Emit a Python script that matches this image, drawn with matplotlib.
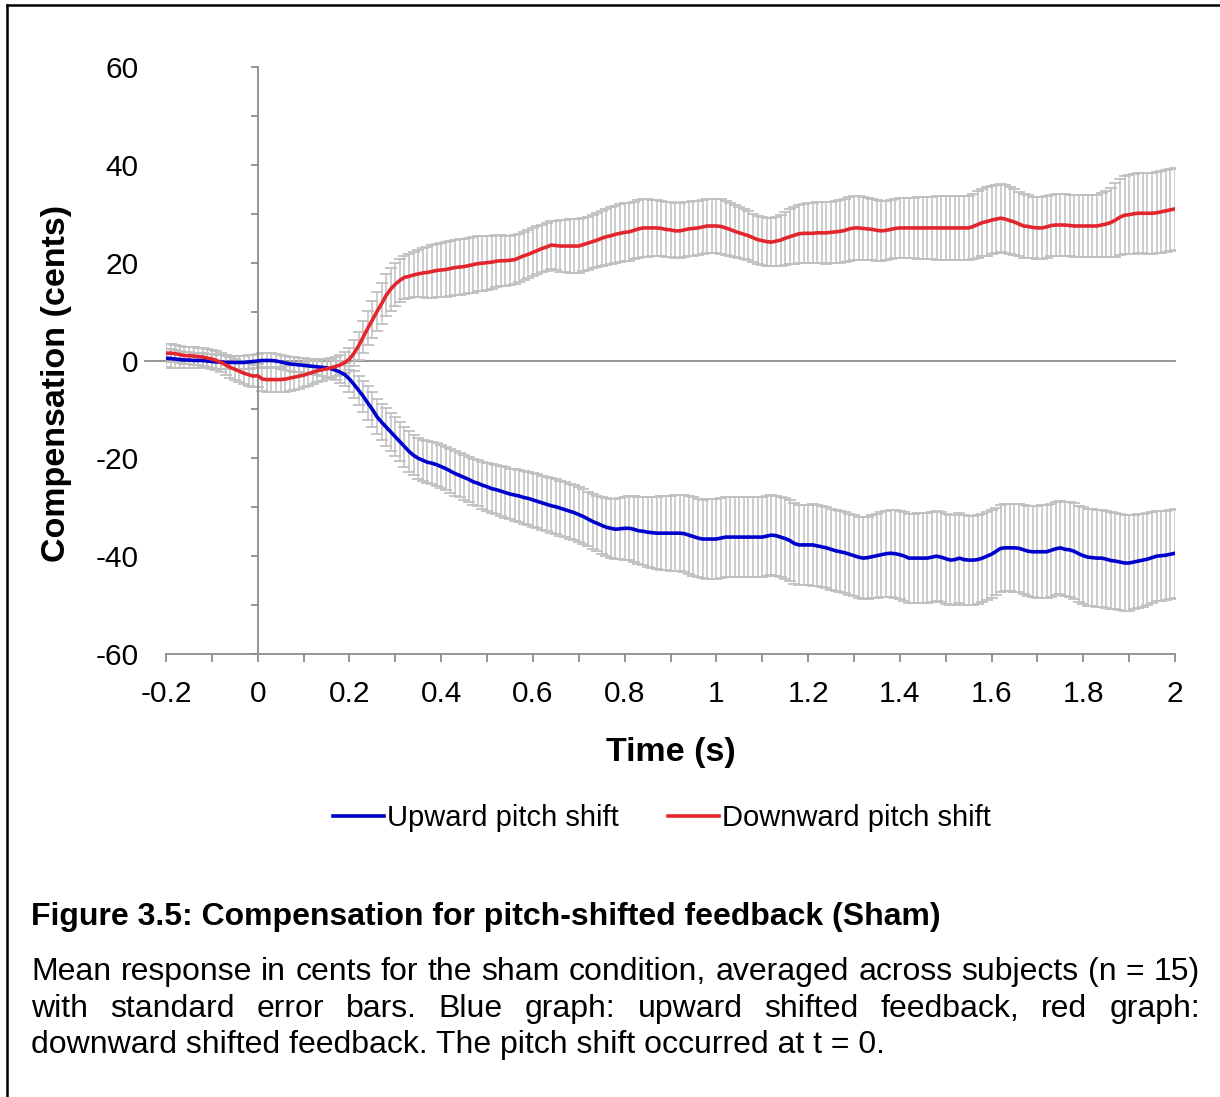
import numpy as np
import matplotlib
matplotlib.use("Agg")
import matplotlib.pyplot as plt
from matplotlib.lines import Line2D
from matplotlib.ticker import MultipleLocator, FuncFormatter

plt.rcParams["font.family"] = ["Liberation Sans", "DejaVu Sans"]

# sampling times (s), one sample every 10 ms from -0.2 to 2.0
time_s = np.round(np.arange(-20, 201) / 100, 2)

# mean compensation (cents)
up_mean = [
    0.5, 0.4, 0.3, 0.2, 0.1, 0.1, 0.0, 0.0, 0.0, -0.1,
    -0.2, -0.3, -0.3, -0.4, -0.4, -0.4, -0.4, -0.4, -0.3, -0.2,
    -0.1, 0.0, 0.0, 0.0, -0.1, -0.3, -0.5, -0.7, -0.8, -0.9,
    -1.0, -1.1, -1.2, -1.3, -1.4, -1.5, -1.7, -2.0, -2.4, -2.9,
    -3.8, -4.9, -6.1, -7.3, -8.7, -10.0, -11.5, -12.6, -13.6, -14.6,
    -15.6, -16.6, -17.6, -18.6, -19.4, -20.0, -20.4, -20.8, -21.0, -21.3,
    -21.7, -22.1, -22.6, -23.1, -23.5, -23.9, -24.3, -24.8, -25.1, -25.5,
    -25.8, -26.2, -26.4, -26.7, -27.0, -27.3, -27.5, -27.7, -28.0, -28.2,
    -28.5, -28.8, -29.1, -29.4, -29.7, -29.9, -30.2, -30.5, -30.8, -31.1,
    -31.5, -31.9, -32.4, -32.9, -33.3, -33.7, -34.1, -34.3, -34.5, -34.4,
    -34.3, -34.3, -34.5, -34.8, -34.9, -35.1, -35.2, -35.3, -35.3, -35.3,
    -35.3, -35.3, -35.3, -35.4, -35.7, -36.0, -36.3, -36.5, -36.5, -36.5,
    -36.5, -36.3, -36.1, -36.1, -36.1, -36.1, -36.1, -36.1, -36.1, -36.1,
    -36.1, -35.9, -35.7, -35.8, -36.1, -36.4, -36.8, -37.4, -37.7, -37.7,
    -37.7, -37.7, -37.9, -38.1, -38.3, -38.6, -38.9, -39.1, -39.3, -39.6,
    -39.9, -40.2, -40.4, -40.3, -40.1, -39.9, -39.7, -39.5, -39.4, -39.5,
    -39.7, -40.0, -40.4, -40.4, -40.4, -40.4, -40.4, -40.2, -40.0, -40.2,
    -40.5, -40.8, -40.7, -40.4, -40.7, -40.8, -40.8, -40.7, -40.4, -40.0,
    -39.6, -39.0, -38.4, -38.3, -38.3, -38.3, -38.4, -38.7, -39.0, -39.1,
    -39.1, -39.1, -39.1, -38.8, -38.5, -38.3, -38.6, -38.7, -39.0, -39.5,
    -39.9, -40.2, -40.3, -40.4, -40.4, -40.6, -40.9, -41.0, -41.2, -41.4,
    -41.4, -41.2, -41.0, -40.8, -40.6, -40.3, -40.0, -39.9, -39.8, -39.6,
    -39.4,
]
up_se = [
    1.9, 1.9, 1.8, 1.8, 1.7, 1.7, 1.6, 1.6, 1.5, 1.5,
    1.5, 1.5, 1.4, 1.4, 1.4, 1.4, 1.4, 1.4, 1.4, 1.4,
    1.4, 1.5, 1.5, 1.5, 1.5, 1.5, 1.5, 1.5, 1.5, 1.5,
    1.5, 1.5, 1.6, 1.6, 1.7, 1.8, 1.9, 2.0, 2.2, 2.4,
    2.6, 2.8, 3.0, 3.2, 3.4, 3.5, 3.6, 3.7, 3.8, 3.9,
    4.0, 4.0, 4.1, 4.1, 4.1, 4.2, 4.2, 4.3, 4.3, 4.4,
    4.4, 4.4, 4.5, 4.5, 4.5, 4.6, 4.6, 4.7, 4.7, 4.8,
    4.9, 5.0, 5.0, 5.1, 5.2, 5.2, 5.3, 5.3, 5.4, 5.4,
    5.5, 5.5, 5.5, 5.5, 5.6, 5.6, 5.6, 5.6, 5.6, 5.6,
    5.6, 5.6, 5.6, 5.6, 5.7, 5.8, 5.9, 6.0, 6.1, 6.2,
    6.4, 6.5, 6.7, 6.8, 7.0, 7.1, 7.2, 7.4, 7.5, 7.6,
    7.7, 7.8, 7.8, 7.9, 7.9, 8.0, 8.0, 8.0, 8.1, 8.1,
    8.1, 8.1, 8.1, 8.1, 8.1, 8.2, 8.2, 8.2, 8.2, 8.2,
    8.2, 8.2, 8.2, 8.2, 8.2, 8.2, 8.2, 8.2, 8.2, 8.2,
    8.2, 8.3, 8.3, 8.3, 8.3, 8.3, 8.3, 8.3, 8.3, 8.3,
    8.3, 8.3, 8.4, 8.4, 8.5, 8.6, 8.7, 8.8, 8.9, 9.0,
    9.0, 9.1, 9.1, 9.1, 9.2, 9.2, 9.2, 9.2, 9.2, 9.2,
    9.2, 9.2, 9.2, 9.2, 9.2, 9.1, 9.1, 9.1, 9.0, 9.0,
    9.0, 8.9, 8.9, 8.9, 8.9, 9.0, 9.0, 9.1, 9.2, 9.3,
    9.4, 9.5, 9.5, 9.5, 9.5, 9.5, 9.6, 9.7, 9.8, 9.8,
    9.9, 9.9, 9.9, 9.9, 9.9, 9.9, 9.9, 9.9, 9.9, 9.9,
    9.8, 9.7, 9.6, 9.5, 9.4, 9.3, 9.2, 9.2, 9.1, 9.1,
    9.1,
]
down_mean = [
    1.5, 1.5, 1.4, 1.2, 1.0, 1.0, 0.9, 0.8, 0.7, 0.5,
    0.3, 0.0, -0.4, -0.9, -1.4, -1.8, -2.2, -2.6, -2.9, -3.2,
    -3.1, -3.8, -3.9, -3.9, -3.9, -3.9, -3.8, -3.6, -3.4, -3.2,
    -3.0, -2.7, -2.4, -2.1, -1.9, -1.7, -1.5, -1.2, -0.9, -0.4,
    0.3, 1.5, 3.0, 4.8, 6.6, 8.3, 10.0, 11.6, 13.3, 14.6,
    15.6, 16.4, 17.0, 17.2, 17.5, 17.7, 17.9, 18.0, 18.2, 18.4,
    18.5, 18.6, 18.8, 19.0, 19.1, 19.2, 19.4, 19.6, 19.8, 19.9,
    20.0, 20.1, 20.3, 20.4, 20.4, 20.5, 20.6, 21.0, 21.4, 21.7,
    22.1, 22.5, 22.9, 23.2, 23.6, 23.5, 23.4, 23.4, 23.4, 23.4,
    23.4, 23.7, 24.0, 24.3, 24.6, 25.0, 25.3, 25.5, 25.8, 26.0,
    26.2, 26.3, 26.6, 26.9, 27.1, 27.1, 27.1, 27.1, 27.0, 26.8,
    26.7, 26.5, 26.5, 26.7, 26.9, 27.0, 27.1, 27.3, 27.5, 27.5,
    27.5, 27.4, 27.1, 26.8, 26.4, 26.1, 25.8, 25.5, 25.1, 24.7,
    24.5, 24.3, 24.2, 24.4, 24.6, 25.0, 25.3, 25.6, 25.9, 26.0,
    26.0, 26.0, 26.1, 26.1, 26.1, 26.2, 26.3, 26.4, 26.6, 26.9,
    27.1, 27.1, 27.0, 26.9, 26.8, 26.6, 26.5, 26.6, 26.8, 27.0,
    27.1, 27.1, 27.1, 27.1, 27.1, 27.1, 27.1, 27.1, 27.1, 27.1,
    27.1, 27.1, 27.1, 27.1, 27.1, 27.1, 27.4, 27.8, 28.2, 28.4,
    28.7, 28.9, 29.1, 28.9, 28.6, 28.3, 27.9, 27.5, 27.4, 27.2,
    27.1, 27.1, 27.3, 27.6, 27.7, 27.7, 27.7, 27.6, 27.5, 27.5,
    27.5, 27.5, 27.5, 27.5, 27.7, 27.9, 28.2, 28.7, 29.3, 29.7,
    29.8, 30.0, 30.1, 30.1, 30.1, 30.1, 30.2, 30.4, 30.6, 30.8,
    31.0,
]
down_se = [
    1.8, 1.8, 1.8, 1.8, 1.8, 1.8, 1.8, 1.8, 1.8, 1.8,
    1.9, 1.9, 2.0, 2.0, 2.1, 2.1, 2.2, 2.2, 2.3, 2.3,
    2.4, 2.5, 2.5, 2.6, 2.6, 2.6, 2.6, 2.6, 2.6, 2.6,
    2.5, 2.5, 2.4, 2.3, 2.2, 2.1, 2.0, 2.0, 2.0, 2.1,
    2.3, 2.6, 2.9, 3.2, 3.5, 3.8, 4.0, 4.2, 4.3, 4.4,
    4.4, 4.4, 4.4, 4.5, 4.6, 4.8, 5.0, 5.2, 5.4, 5.5,
    5.6, 5.7, 5.7, 5.7, 5.7, 5.7, 5.7, 5.7, 5.6, 5.6,
    5.5, 5.4, 5.3, 5.2, 5.1, 5.0, 5.0, 4.9, 4.9, 4.9,
    4.9, 4.9, 4.9, 4.9, 4.9, 5.1, 5.3, 5.4, 5.5, 5.5,
    5.5, 5.5, 5.4, 5.4, 5.5, 5.6, 5.7, 5.8, 5.8, 5.9,
    5.9, 5.9, 5.9, 5.9, 5.9, 5.9, 5.8, 5.8, 5.7, 5.7,
    5.6, 5.6, 5.6, 5.6, 5.6, 5.6, 5.6, 5.6, 5.6, 5.6,
    5.6, 5.6, 5.5, 5.4, 5.3, 5.2, 5.1, 5.0, 4.9, 4.9,
    4.9, 4.9, 4.9, 5.0, 5.2, 5.4, 5.6, 5.8, 5.9, 6.0,
    6.1, 6.1, 6.2, 6.2, 6.3, 6.3, 6.4, 6.4, 6.5, 6.5,
    6.6, 6.6, 6.5, 6.4, 6.3, 6.2, 6.2, 6.1, 6.1, 6.1,
    6.1, 6.1, 6.2, 6.2, 6.3, 6.3, 6.4, 6.4, 6.5, 6.5,
    6.6, 6.6, 6.6, 6.6, 6.6, 6.6, 6.7, 6.8, 6.9, 7.0,
    7.0, 7.0, 7.0, 6.9, 6.8, 6.7, 6.6, 6.5, 6.4, 6.3,
    6.3, 6.3, 6.3, 6.3, 6.3, 6.3, 6.3, 6.3, 6.3, 6.3,
    6.3, 6.3, 6.3, 6.3, 6.5, 6.8, 7.1, 7.5, 7.8, 8.0,
    8.1, 8.2, 8.2, 8.2, 8.3, 8.3, 8.3, 8.4, 8.4, 8.4,
    8.4,
]

series_labels = ["Upward pitch shift", "Downward pitch shift"]
series_colors = ["#0000cc", "#e3262e"]

caption_title = "Figure 3.5: Compensation for pitch-shifted feedback (Sham)"
caption_lines = [
    "Mean response in cents for the sham condition, averaged across subjects (n = 15)",
    "with standard error bars. Blue graph: upward shifted feedback, red graph:",
    "downward shifted feedback. The pitch shift occurred at t = 0.",
]

W, H = 1220, 1097
fig = plt.figure(figsize=(W / 100, H / 100), dpi=100)
ax = fig.add_axes([166 / W, 1 - 654 / H, 1009 / W, 587 / H])

axis_grey = "#8c8c8c"
err_grey = "#c0c0c0"

# error bars first, lines on top
for mean, se in [(up_mean, up_se), (down_mean, down_se)]:
    ax.errorbar(time_s, mean, yerr=se, fmt="none", ecolor=err_grey,
                elinewidth=1.1, capsize=4.5, capthick=1.3, zorder=2)

handles = []
for mean, col, lab in zip([up_mean, down_mean], series_colors, series_labels):
    h, = ax.plot(time_s, mean, color=col, linewidth=2.6, label=lab, zorder=4)
    handles.append(h)

# zero line
ax.axhline(0, xmin=-0.021, xmax=1, color=axis_grey, linewidth=1.3,
           clip_on=False, zorder=1)

ax.set_xlim(-0.2, 2.0)
ax.set_ylim(-60, 60)

for s in ["top", "right"]:
    ax.spines[s].set_visible(False)
ax.spines["left"].set_position(("data", 0))
ax.spines["left"].set_color(axis_grey)
ax.spines["bottom"].set_color(axis_grey)
ax.spines["left"].set_linewidth(1.3)
ax.spines["bottom"].set_linewidth(1.3)

ax.xaxis.set_major_locator(MultipleLocator(0.2))
ax.xaxis.set_minor_locator(MultipleLocator(0.1))
ax.yaxis.set_major_locator(MultipleLocator(20))
ax.yaxis.set_minor_locator(MultipleLocator(10))
ax.xaxis.set_major_formatter(FuncFormatter(lambda v, p: f"{v:g}" if abs(v) > 1e-9 else "0"))
ax.yaxis.set_major_formatter(FuncFormatter(lambda v, p: f"{v:g}"))

ax.tick_params(axis="x", which="both", direction="out", length=5.5, width=1.3,
               color=axis_grey, labelsize=21.5, pad=13)
ax.tick_params(axis="y", which="both", direction="out", length=5, width=1.3,
               color=axis_grey, labelsize=21.5, pad=81)

ax.set_xlabel("Time (s)", fontsize=24.5, fontweight="bold", labelpad=21)
fig.text(57 / W, 1 - 383 / H, "Compensation (cents)", rotation=90,
         fontsize=24.5, fontweight="bold", ha="center", va="center")

fig.legend(handles, series_labels, loc="center",
           bbox_to_anchor=(662 / W, 1 - 818 / H), ncol=2, frameon=False,
           fontsize=21, handlelength=1.75, handletextpad=0.1,
           columnspacing=1.7)

# caption
fig.text(31 / W, 1 - 925 / H, caption_title, fontsize=23, fontweight="bold",
         ha="left", va="baseline")

renderer = fig.canvas.get_renderer()


def justified(line, y_px, x0, x1, fs):
    words = line.split()
    texts = [fig.text(0, 1 - y_px / H, w, fontsize=fs, ha="left", va="baseline")
             for w in words]
    widths = [t.get_window_extent(renderer).width for t in texts]
    gap = (x1 - x0 - sum(widths)) / (len(words) - 1)
    x = x0
    for t, w in zip(texts, widths):
        t.set_x(x / W)
        x += w + gap


justified(caption_lines[0], 980, 31, 1200, 23)
justified(caption_lines[1], 1017, 31, 1200, 23)
fig.text(31 / W, 1 - 1053 / H, caption_lines[2], fontsize=23,
         ha="left", va="baseline")

# page frame (left and top edges)
fig.add_artist(Line2D([7 / W, 7 / W], [0, 1 - 5 / H], color="black", linewidth=1.8))
fig.add_artist(Line2D([7 / W, 1], [1 - 5 / H, 1 - 5 / H], color="black", linewidth=1.8))

fig.savefig("out.png", dpi=100)
